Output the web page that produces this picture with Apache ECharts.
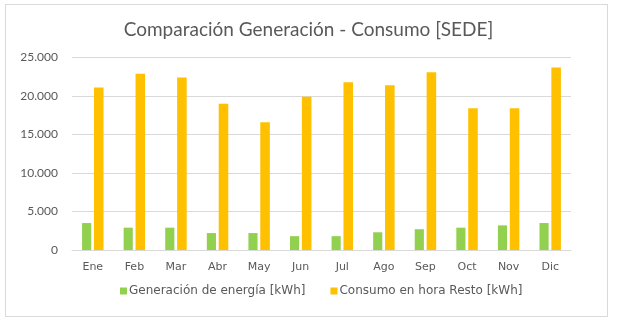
<!DOCTYPE html>
<html>
<head>
<meta charset="utf-8">
<script src="https://cdn.jsdelivr.net/npm/echarts@6/dist/echarts.min.js"></script>
<style>
html,body{margin:0;padding:0;background:#fff;}
#frame{position:absolute;left:5px;top:4px;width:603px;height:313px;border:1px solid #d9d9d9;box-sizing:border-box;}
#chart{position:absolute;left:0;top:0;width:617px;height:325px;}
</style>
</head>
<body>
<div id="frame"></div>
<div id="chart"></div>
<script>
const categories = ['Ene','Feb','Mar','Abr','May','Jun','Jul','Ago','Sep','Oct','Nov','Dic'];
const generacion = [3500,2900,2900,2200,2200,1800,1800,2300,2700,2900,3200,3500];
const consumo = [21100,22900,22400,19000,16600,19900,21800,21400,23100,18400,18400,23700];
const yTicks = {min:0, max:25000, interval:5000};
const seriesNames = ['Generación de energía [kWh]','Consumo en hora Resto [kWh]'];
const titleText = 'Comparación Generación - Consumo [SEDE]';

const font = 'Lato, "Open Sans", sans-serif';
const wideFont = '"DejaVu Sans", sans-serif';
const chart = echarts.init(document.getElementById('chart'), null, {renderer:'canvas'});
chart.setOption({
  animation:false,
  title:{text:titleText,left:'center',top:15,textStyle:{fontFamily:font,fontSize:19,fontWeight:'normal',color:'#595959'}},
  grid:{left:72,right:46,top:57.5,bottom:75},
  legend:{bottom:23,left:115,itemWidth:7,itemHeight:7,itemGap:25,icon:'rect',
    textStyle:{fontFamily:wideFont,fontSize:12,color:'#595959',padding:[0,0,0,-3]}},
  xAxis:{type:'category',data:categories,
    axisLine:{lineStyle:{color:'#d9d9d9'}},axisTick:{show:false},
    axisLabel:{fontFamily:wideFont,fontSize:11,color:'#595959',margin:12}},
  yAxis:{type:'value',min:yTicks.min,max:yTicks.max,interval:yTicks.interval,
    axisLine:{show:false},axisTick:{show:false},
    splitLine:{lineStyle:{color:'#d9d9d9'}},
    axisLabel:{fontFamily:font,fontSize:12,color:'#595959',margin:14,
      formatter:v=>v.toString().replace(/\B(?=(\d{3})+(?!\d))/g,'.')}},
  series:[
    {name:seriesNames[0],type:'bar',data:generacion,barWidth:'22%',barGap:'30%',itemStyle:{color:'#92D050'}},
    {name:seriesNames[1],type:'bar',data:consumo,barWidth:'23%',itemStyle:{color:'#FFC000'}}
  ]
});
</script>
</body>
</html>
